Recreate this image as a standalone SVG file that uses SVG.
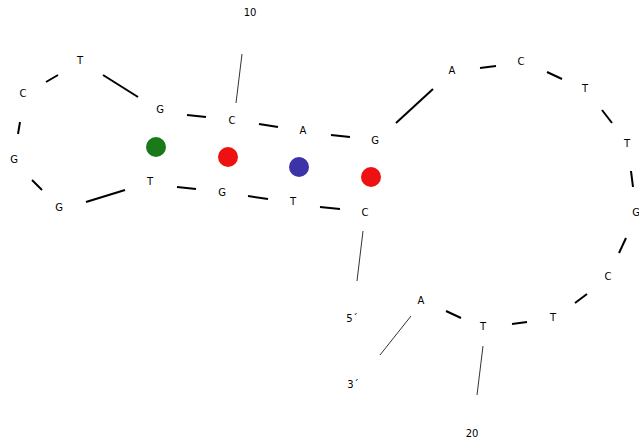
<svg xmlns="http://www.w3.org/2000/svg" width="639" height="443" viewBox="0 0 639 443">
  <style>
    .base { font-family: "DejaVu Sans", Verdana, sans-serif; font-size: 10px; fill: #000; text-anchor: middle; dominant-baseline: central; }
    .num { font-family: "DejaVu Sans", Verdana, sans-serif; font-size: 10px; fill: #000; text-anchor: middle; dominant-baseline: central; }
    .bond { stroke: #000; stroke-width: 2; fill: none; }
    .tick { stroke: #333; stroke-width: 1; fill: none; }
  </style>
  <rect width="639" height="443" fill="#fff"/>

  <!-- backbone links between bases -->
  <g id="connectors">
    <line class="bond" x1="46" y1="82" x2="58" y2="75"/>
    <line class="bond" x1="103" y1="75" x2="138" y2="97"/>
    <line class="bond" x1="20" y1="122" x2="18" y2="134"/>
    <line class="bond" x1="32" y1="180" x2="42" y2="190"/>
    <line class="bond" x1="86" y1="202" x2="125" y2="190"/>
    <line class="bond" x1="187" y1="115" x2="206" y2="117"/>
    <line class="bond" x1="259" y1="124" x2="278" y2="127"/>
    <line class="bond" x1="331" y1="135" x2="350" y2="137"/>
    <line class="bond" x1="177" y1="187" x2="196" y2="189"/>
    <line class="bond" x1="248" y1="196" x2="268" y2="199"/>
    <line class="bond" x1="320" y1="207" x2="340" y2="209"/>
    <line class="bond" x1="396" y1="123" x2="433" y2="89"/>
    <line class="bond" x1="480" y1="68" x2="496" y2="66"/>
    <line class="bond" x1="547" y1="72" x2="562" y2="79"/>
    <line class="bond" x1="602" y1="110" x2="612" y2="123"/>
    <line class="bond" x1="631" y1="171" x2="633" y2="187"/>
    <line class="bond" x1="626" y1="238" x2="619" y2="253"/>
    <line class="bond" x1="587" y1="294" x2="575" y2="303"/>
    <line class="bond" x1="512" y1="324" x2="527" y2="322"/>
    <line class="bond" x1="446" y1="311" x2="461" y2="318"/>
    <!-- numbering and end ticks -->
    <line class="tick" x1="242" y1="54" x2="236" y2="103"/>
    <line class="tick" x1="363" y1="231" x2="357" y2="281"/>
    <line class="tick" x1="411" y1="316" x2="380" y2="355"/>
    <line class="tick" x1="483" y1="346" x2="477" y2="395"/>
  </g>

  <!-- base-pair markers -->
  <g id="pair-1"><circle cx="156" cy="147" r="10" fill="#1a7a1a"/></g>
  <g id="pair-2"><circle cx="228" cy="157" r="10" fill="#ee1111"/></g>
  <g id="pair-3"><circle cx="299" cy="167" r="10" fill="#3c33a8"/></g>
  <g id="pair-4"><circle cx="371" cy="177" r="10" fill="#ee1111"/></g>

  <!-- bases -->
  <g id="b-T1"><text class="base" x="80" y="60">T</text></g>
  <g id="b-C1"><text class="base" x="23" y="93">C</text></g>
  <g id="b-G1"><text class="base" x="14" y="159">G</text></g>
  <g id="b-G2"><text class="base" x="59" y="207">G</text></g>
  <g id="b-T2"><text class="base" x="150" y="181">T</text></g>
  <g id="b-G3"><text class="base" x="160" y="109">G</text></g>
  <g id="b-C2"><text class="base" x="232" y="120">C</text></g>
  <g id="b-A1"><text class="base" x="303" y="130">A</text></g>
  <g id="b-G4"><text class="base" x="375" y="140">G</text></g>
  <g id="b-G5"><text class="base" x="222" y="192">G</text></g>
  <g id="b-T3"><text class="base" x="293" y="201">T</text></g>
  <g id="b-C3"><text class="base" x="365" y="212">C</text></g>
  <g id="b-A2"><text class="base" x="452" y="70">A</text></g>
  <g id="b-C4"><text class="base" x="521" y="61">C</text></g>
  <g id="b-T4"><text class="base" x="585" y="88">T</text></g>
  <g id="b-T5"><text class="base" x="627" y="143">T</text></g>
  <g id="b-G6"><text class="base" x="636" y="212">G</text></g>
  <g id="b-C5"><text class="base" x="608" y="276">C</text></g>
  <g id="b-T6"><text class="base" x="553" y="317">T</text></g>
  <g id="b-T7"><text class="base" x="483" y="326">T</text></g>
  <g id="b-A3"><text class="base" x="421" y="300">A</text></g>

  <!-- labels -->
  <g id="label-10"><text class="num" x="250" y="12">10</text></g>
  <g id="label-20"><text class="num" x="472" y="433">20</text></g>
  <g id="label-5"><text class="num" x="352" y="318">5´</text></g>
  <g id="label-3"><text class="num" x="353" y="384">3´</text></g>
</svg>
